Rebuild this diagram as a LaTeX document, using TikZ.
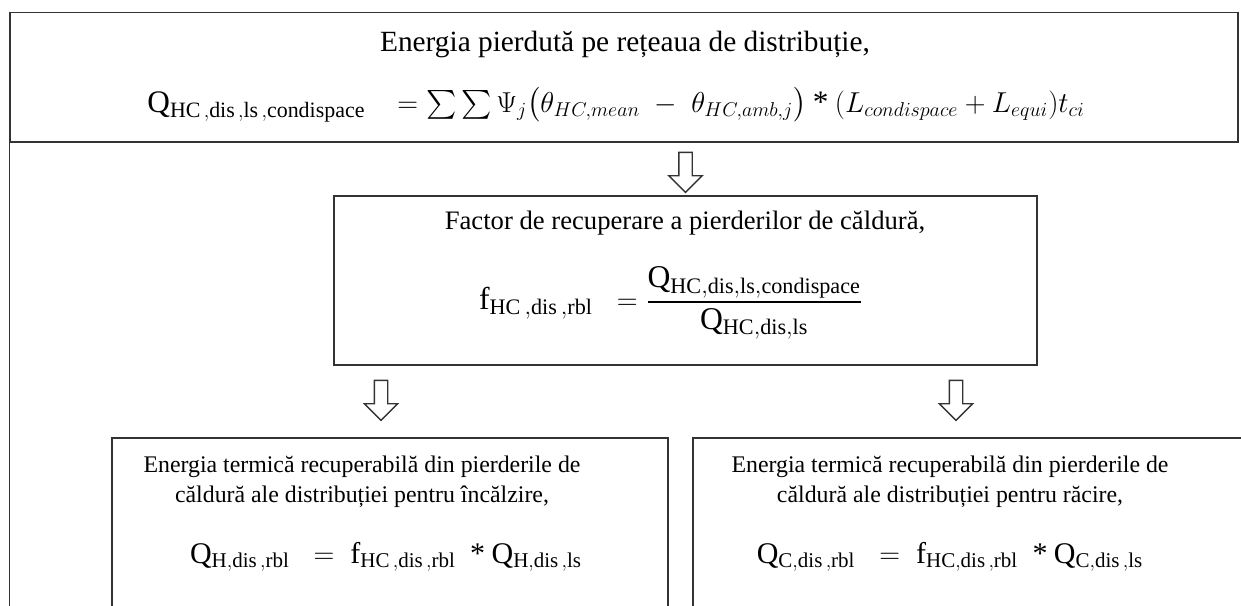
\documentclass[tikz,border=0pt]{standalone}
\usepackage{amsmath}
\usepackage{fontspec}
\setmainfont{Liberation Serif}
\usetikzlibrary{shapes.arrows,positioning,calc}
\definecolor{framegray}{HTML}{333333}
\tikzset{
  frame/.style={rectangle, draw=framegray, line width=0.8pt, inner sep=0pt},
  framerule/.style={draw=framegray, line width=0.8pt},
  downarrow/.style={single arrow, draw=framegray, line width=0.8pt, fill=white, inner sep=3.6pt, minimum height=24pt, single arrow head extend=6pt, rotate=-90},
  toptext/.style={font=\fontsize{17.6}{21}\selectfont, inner sep=0pt},
  topform/.style={font=\fontsize{18.8}{22}\selectfont, inner sep=0pt},
  midtext/.style={font=\fontsize{16}{19}\selectfont, inner sep=0pt},
  midform/.style={font=\fontsize{19}{23}\selectfont, inner sep=0pt},
  lowtext/.style={font=\fontsize{14.3}{18}\selectfont, inner sep=0pt, align=center},
  lowform/.style={font=\fontsize{18}{22}\selectfont, inner sep=0pt},
}
\newcommand{\sep}{\,,}

\begin{document}
\begin{tikzpicture}[x=0.6pt,y=-0.6pt]
  \useasboundingbox (0,0) rectangle (1241,605);
  \clip (0,0) rectangle (1241,605);
  % boxes
  \node[frame, minimum width=736.8pt, minimum height=77.7pt] (loss) at (624,77.25) {};
  \node[frame, minimum width=421.8pt, minimum height=101.4pt] (factor) at (685.5,280.5) {};
  \node[frame, minimum width=333.6pt, minimum height=133.2pt] (heat) at (390,549) {};
  \node[frame, minimum width=352.2pt, minimum height=133.2pt] (cool) at (986.5,549) {};
  \draw[framerule] (loss.north west) -- (loss.north west |- heat.south);
  % texts
  \node[toptext, anchor=base] (losstitle) at (625,51) {Energia pierdută pe rețeaua de distribuție,};
  \node[topform, anchor=base] (lossform) at (616,112)
    {$\mathrm{Q}_{\mathrm{HC\sep dis\sep ls\sep condispace}}\;\;\;=\textstyle\sum\sum\Psi_j\bigl(\theta_{HC,mean}\;-\;\theta_{HC,amb,j}\bigr)\mathbin{\text{*}}(L_{condispace}+L_{equi})t_{ci}$};
  \node[midtext, anchor=base] (factortitle) at (685,229) {Factor de recuperare a pierderilor de căldură,};
  \node[midform] (factorform) at (671,303)
    {$\mathrm{f}_{\mathrm{HC\sep dis\sep rbl}}\;\;=\dfrac{\mathrm{Q}_{\mathrm{HC{,}dis{,}ls{,}condispace}}}{\mathrm{Q}_{\mathrm{HC{,}dis{,}ls}}}$};
  \node[lowtext, anchor=base] (heattitle) at (362,502) {Energia termică recuperabilă din pierderile de\\ căldură ale distribuției pentru încălzire,};
  \node[lowform, anchor=base] (heatform) at (386,563)
    {$\mathrm{Q}_{\mathrm{H,dis\sep rbl}}\;\;=\;\mathrm{f}_{\mathrm{HC\sep dis\sep rbl}}\;\mathbin{\text{*}}\mathrm{Q}_{\mathrm{H,dis\sep ls}}$};
  \node[lowtext, anchor=base] (cooltitle) at (950,502) {Energia termică recuperabilă din pierderile de\\ căldură ale distribuției pentru răcire,};
  \node[lowform, anchor=base] (coolform) at (950,563)
    {$\mathrm{Q}_{\mathrm{C,dis\sep rbl}}\;\;=\;\mathrm{f}_{\mathrm{HC,dis\sep rbl}}\;\mathbin{\text{*}}\mathrm{Q}_{\mathrm{C,dis\sep ls}}$};
  % arrows
  \node[downarrow] (down1) at ($(loss.south -| factor.north)!0.5!(factor.north)$) {};
  \node[downarrow] (down2) at (381,397) {};
  \node[downarrow] (down3) at (956,397) {};
\end{tikzpicture}
\end{document}
